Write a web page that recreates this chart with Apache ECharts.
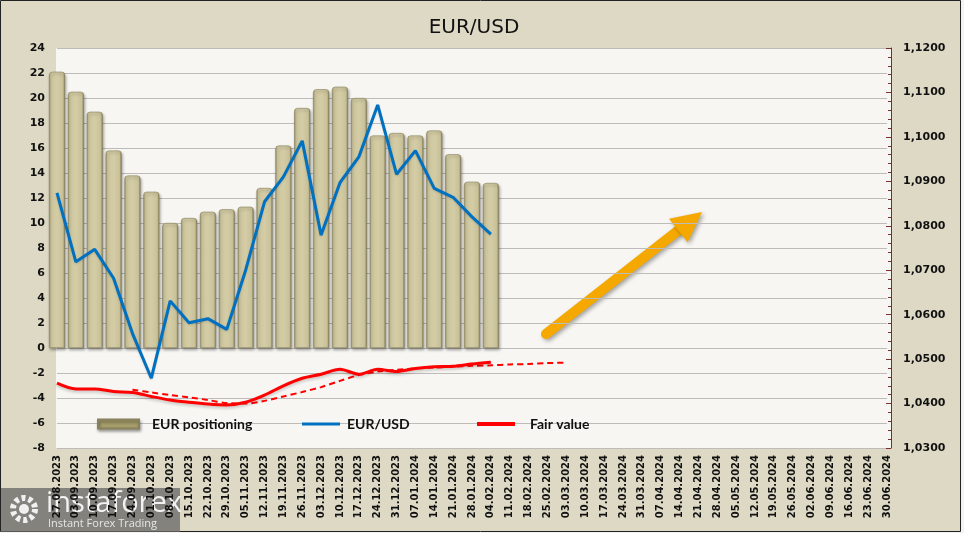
<!DOCTYPE html>
<html>
<head>
<meta charset="utf-8">
<script src="https://cdn.jsdelivr.net/npm/echarts@6/dist/echarts.min.js"></script>
<style>
html,body{margin:0;padding:0;background:#f3f3f3;}
#chart{width:964px;height:533px;}
</style>
</head>
<body>
<div id="chart"></div>
<script>
var dates = ['27.08.2023','03.09.2023','10.09.2023','17.09.2023','24.09.2023','01.10.2023','08.10.2023','15.10.2023','22.10.2023','29.10.2023','05.11.2023','12.11.2023','19.11.2023','26.11.2023','03.12.2023','10.12.2023','17.12.2023','24.12.2023','31.12.2023','07.01.2024','14.01.2024','21.01.2024','28.01.2024','04.02.2024','11.02.2024','18.02.2024','25.02.2024','03.03.2024','10.03.2024','17.03.2024','24.03.2024','31.03.2024','07.04.2024','14.04.2024','21.04.2024','28.04.2024','05.05.2024','12.05.2024','19.05.2024','26.05.2024','02.06.2024','09.06.2024','16.06.2024','23.06.2024','30.06.2024'];

var eurPositioning = [22.1,20.5,18.9,15.8,13.8,12.5,10.0,10.4,10.9,11.1,11.3,12.8,16.2,19.2,20.7,20.9,20.0,17.0,17.2,17.0,17.4,15.5,13.3,13.2];

var eurusd = [1.0874,1.0719,1.0747,1.0682,1.0558,1.0457,1.0631,1.0582,1.0591,1.0567,1.0700,1.0854,1.0910,1.0991,1.0779,1.0897,1.0955,1.1072,1.0916,1.0969,1.0884,1.0864,1.0820,1.0781];

var fairValue = [1.0446,1.0433,1.0433,1.0427,1.0425,1.0416,1.0408,1.0403,1.0399,1.0397,1.0403,1.0419,1.0440,1.0457,1.0466,1.0477,1.0466,1.0477,1.0472,1.0479,1.0483,1.0484,1.0489,1.0493];

var fairTrend = [null,null,null,null,1.0431,1.0425,1.0419,1.0414,1.0408,1.0401,1.0400,1.0406,1.0416,1.0426,1.0437,1.0451,1.0464,1.0472,1.0476,1.0479,1.0481,1.0483,1.0485,1.0486,1.0488,1.0489,1.0491,1.0492];

var leftTicks = {min:-8, max:24, interval:2};
var rightTicks = {min:1.03, max:1.12, interval:0.01};

var chart = echarts.init(document.getElementById('chart'), null, {renderer:'canvas'});

var axisFont = {fontFamily:'DejaVu Sans', fontWeight:'bold', color:'#111'};
var legendFont = {fontFamily:'Lato', fontWeight:700, fontSize:14, color:'#111'};

var option = {
  backgroundColor:'transparent',
  animation:false,
  title:{
    text:'EUR/USD', left:469, top:13, textAlign:'center',
    textStyle:{fontFamily:'DejaVu Sans', fontWeight:'normal', fontSize:20, color:'#111'}
  },
  grid:{left:57, right:77, top:48, bottom:85, containLabel:false},
  legend:[
    {data:['EUR positioning'], left:92, top:412, icon:'rect', itemWidth:41, itemHeight:9,
     itemStyle:{color:'#A69D6B', shadowColor:'rgba(0,0,0,0.35)', shadowBlur:3, shadowOffsetX:1, shadowOffsetY:2},
     textStyle:Object.assign({padding:[0,0,0,8]}, legendFont), selectedMode:false},
    {data:['EUR/USD'], left:297, top:412, icon:'rect', itemWidth:38, itemHeight:3,
     textStyle:Object.assign({padding:[0,0,0,2]}, legendFont), selectedMode:false},
    {data:['Fair value'], left:472, top:412, icon:'rect', itemWidth:38, itemHeight:4,
     textStyle:Object.assign({padding:[0,0,0,10]}, legendFont), selectedMode:false}
  ],
  xAxis:{
    type:'category', data:dates, boundaryGap:false,
    axisLine:{show:false}, axisTick:{show:false},
    axisLabel:Object.assign({rotate:90, fontSize:10, interval:0, margin:7}, axisFont),
    splitLine:{show:false}
  },
  yAxis:[
    {type:'value', min:leftTicks.min, max:leftTicks.max, interval:leftTicks.interval,
     axisLine:{show:false}, axisTick:{show:false},
     axisLabel:Object.assign({fontSize:11, margin:12}, axisFont),
     splitLine:{show:true, lineStyle:{color:'#BDBCB8', width:1}}},
    {type:'value', position:'right', min:rightTicks.min, max:rightTicks.max, interval:rightTicks.interval,
     offset:4,
     axisLine:{show:true, lineStyle:{color:'#7A2E2E', width:1}},
     axisTick:{show:true, inside:true, length:5, lineStyle:{color:'#7A2E2E'}},
     minorTick:{show:true, splitNumber:5, length:3, lineStyle:{color:'#7A2E2E'}},
     axisLabel:Object.assign({fontSize:11, margin:12, formatter:function(v){return v.toFixed(4).replace('.',',');}}, axisFont),
     splitLine:{show:false}}
  ],
  series:[
    {name:'EUR positioning', type:'bar', yAxisIndex:0, data:eurPositioning, barWidth:16, clip:true,
     itemStyle:{
       color:new echarts.graphic.LinearGradient(0,0,1,0,[
         {offset:0,color:'#9A9267'},{offset:0.12,color:'#CCC59D'},{offset:0.5,color:'#D3CCA5'},
         {offset:0.88,color:'#C8C198'},{offset:1,color:'#817A54'}]),
       borderColor:'#87815C', borderWidth:0.6, borderRadius:[3,3,0,0],
       shadowColor:'rgba(0,0,0,0.35)', shadowBlur:3, shadowOffsetX:1, shadowOffsetY:2
     }, z:2},
    {name:'EUR/USD', type:'line', yAxisIndex:1, data:eurusd, showSymbol:false, symbol:'none',
     lineStyle:{color:'#0070C0', width:3, shadowColor:'rgba(0,0,0,0.15)', shadowBlur:2, shadowOffsetY:1},
     itemStyle:{color:'#0070C0'}, z:4},
    {name:'Fair value', type:'line', yAxisIndex:1, data:fairValue, showSymbol:false, symbol:'none', smooth:0.3,
     lineStyle:{color:'#FF0000', width:3, shadowColor:'rgba(0,0,0,0.2)', shadowBlur:3, shadowOffsetY:2},
     itemStyle:{color:'#FF0000'}, z:4},
    {name:'Fair value trend', type:'line', yAxisIndex:1, data:fairTrend, showSymbol:false, symbol:'none', smooth:0.3,
     lineStyle:{color:'#FF0000', width:2, type:[6,4]},
     itemStyle:{color:'#FF0000'}, z:3}
  ],
  graphic:[
    {type:'rect', z:-20, shape:{x:0.5, y:0.5, width:960, height:531}, style:{fill:'#DDD9C4', stroke:'#222', lineWidth:1}},
    {type:'rect', z:-10, shape:{x:56, y:48, width:836, height:400}, style:{fill:'#F7F6F2'}},
    {type:'group', z:50, children:[
      {type:'line', shape:{x1:546, y1:334, x2:680, y2:229}, style:{stroke:'#F5A800', lineWidth:10, lineCap:'round', shadowColor:'rgba(0,0,0,0.35)', shadowBlur:4, shadowOffsetX:2, shadowOffsetY:2}},
      {type:'polygon', shape:{points:[[702,212],[669,218.7],[687.6,242.3]]}, style:{fill:'#F5A800', shadowColor:'rgba(0,0,0,0.35)', shadowBlur:4, shadowOffsetX:2, shadowOffsetY:2}}
    ]},
    {type:'group', z:60, children:[
      {type:'rect', shape:{x:1, y:488, width:179, height:44}, style:{fill:'rgba(105,105,105,0.78)'}},
      {type:'circle', shape:{cx:24, cy:509, r:11}, style:{fill:'none', stroke:'#f0f0f0', lineWidth:6, lineDash:[4,3]}},
      {type:'circle', shape:{cx:24, cy:509, r:5}, style:{fill:'#f0f0f0'}},
      {type:'text', style:{x:46, y:504, text:'instaforex', fill:'#f2f2f2', fontSize:29, fontFamily:'Open Sans', fontWeight:'normal', verticalAlign:'middle', align:'left'}},
      {type:'text', style:{x:48, y:524, text:'Instant Forex Trading', fill:'#e6e6e6', fontSize:11, fontFamily:'Open Sans', verticalAlign:'middle', align:'left'}}
    ]}
  ]
};
chart.setOption(option);
</script>
</body>
</html>
